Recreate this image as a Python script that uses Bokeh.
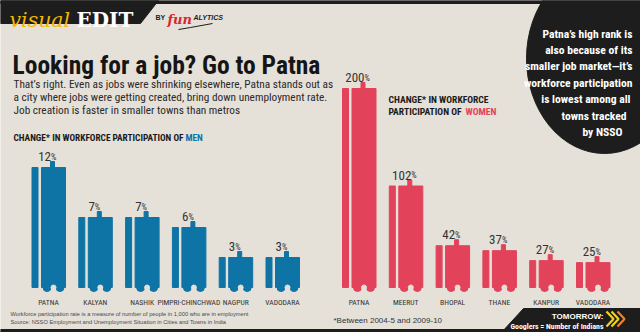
from bokeh.plotting import figure
from bokeh.models import Range1d, ColumnDataSource
from bokeh.transform import dodge
from bokeh.core.properties import value
from bokeh.embed import file_html
from bokeh.resources import INLINE

# ---------------- data ----------------
men_cities = ["PATNA", "KALYAN", "NASHIK", "PIMPRI-CHINCHWAD", "NAGPUR", "VADODARA"]
men_change = [12, 7, 7, 6, 3, 3]
women_cities = ["PATNA", "MEERUT", "BHOPAL", "THANE", "KANPUR", "VADODARA"]
women_change = [200, 102, 42, 37, 27, 25]

title = "Looking for a job? Go to Patna"
subtitle = ["That\u2019s right. Even as jobs were shrinking elsewhere, Patna stands out as",
            "a city where jobs were getting created, bring down unemployment rate.",
            "Job creation is faster in smaller towns than metros"]
note_lines = ["Patna\u2019s high rank is", "also because of its", "smaller job market\u2014it\u2019s",
              "workforce participation", "is lowest among all", "towns tracked", "by NSSO"]
footnotes = ["Workforce participation rate is a measure of number of people in 1,000 who are in employment",
             "Source: NSSO Employment and Unemployment Situation in Cities and Towns in India"]

BG = "#e5e0d8"
BLUE = "#0e74a6"
RED = "#e2435a"
DARK = "#1d1d1d"
NARROW = "Roboto Condensed"

W, H = 640, 332
p = figure(width=W, height=H, x_range=Range1d(0, W), y_range=Range1d(H, 0),
           output_backend="svg", toolbar_location=None, min_border=0,
           x_axis_location=None, y_axis_location=None)
p.grid.visible = False
p.outline_line_color = None
p.background_fill_color = BG
p.border_fill_color = BG

# scales for the two bar charts (index -> px, value -> px)
PX = 46.8
p.extra_x_ranges = {
    "mx": Range1d(-48 / PX, -48 / PX + W / PX),
    "wx": Range1d(-358.5 / PX, -358.5 / PX + W / PX),
}
p.extra_y_ranges = {
    "my": Range1d(-(H - 287) / 10.0, 287 / 10.0),
    "wy": Range1d(-(H - 287) / 0.995, 287 / 0.995),
}

# ---------------- decorations ----------------
p.patch([0, W, W, 0], [0, 0, 3, 3], color=DARK)
p.patch([0, 158, 140, 0], [0, 0, 23, 23], color=DARK)
p.ellipse(x=[604], y=[58], width=[156], height=[190], color=DARK)
p.patch([523, W, W, 501], [308, 308, H, H], color=DARK)
p.patch([0, W, W, 0], [329, 329, H, H], color=DARK)

def txt(x, y, t, size, color=DARK, font=NARROW, style="normal", align="left", baseline="alphabetic"):
    p.text(x=[x], y=[y], text=[t], text_font=value(font), text_font_size=f"{size}px",
           text_font_style=style, text_color=color, text_align=align, text_baseline=baseline)

txt(9, 19, "visual", 20.5, color="#f2b705", font="DejaVu Serif", style="italic")
txt(76, 19, "EDIT", 20, color="white", font="DejaVu Serif", style="bold")
txt(155, 17, "BY", 7, font="Liberation Sans", style="bold")
txt(167, 19, "fun", 13, color="#d8262e", font="DejaVu Serif", style="bold italic")
txt(193, 17, "ALYTICS", 7, font="Liberation Sans", style="bold italic")
p.line([178, 190, 212], [29, 27, 23], color=DARK, line_width=1)

txt(12, 64, title, 25.5, style="bold", color="#151515")
for i, s in enumerate(subtitle):
    txt(13, 84 + 13 * i, s, 11.3, color="#2a2a2a")

rx = [632, 632, 632, 632, 630, 626, 622]
for i, s in enumerate(note_lines):
    txt(rx[i], 33 + 16.4 * i, s, 11.6, color="white", style="bold", align="right")

txt(13, 137, "CHANGE* IN WORKFORCE PARTICIPATION OF", 9.3, style="bold", color="#1a1a1a")
txt(185, 137, "MEN", 9.3, style="bold", color=BLUE)
txt(388, 99, "CHANGE* IN WORKFORCE", 9.6, style="bold", color="#1a1a1a")
txt(388, 111, "PARTICIPATION OF", 9.6, style="bold", color="#1a1a1a")
txt(465, 111, "WOMEN", 9.6, style="bold", color=RED)

for i, s in enumerate(footnotes):
    p.text(x=[10], y=[316 + 8 * i], text=[s], text_font=value("Liberation Sans"),
           text_font_size="5.7px", text_color="#4a4a4a")
txt(333, 320, "*Between 2004-5 and 2009-10", 8, font="Liberation Sans", color="#333333")

txt(603, 316, "TOMORROW:", 8, color="white", font="Liberation Sans", style="bold", align="right")
txt(603, 326, "Googlers = Number of Indians", 7.8, color="white", style="bold", align="right")
for x0, c in [(606, "#f3d21b"), (611, "#f3d21b"), (617, "#f0842a")]:
    p.line([x0, x0 + 7, x0], [311, 318.5, 326], color=c, line_width=2.2)

# ---------------- bars ----------------
def bars(cities, vals, color, xr, yr):
    nums = [str(v) for v in vals]
    src = ColumnDataSource(dict(i=list(range(len(vals))), v=vals, num=nums,
                                pct=["%"] * len(vals), city=cities,
                                nx=[len(n) * 3.0 - 3.5 for n in nums]))
    kw = dict(source=src, x_range_name=xr, y_range_name=yr)
    # main body
    p.vbar(x=dodge("i", 5 / PX), top="v", bottom=0, width=24 / PX, color=color, **kw)
    # thin side bar
    p.vbar(x=dodge("i", -13.5 / PX), top="v", bottom=0, width=6 / PX, color=color, **kw)
    # nub on top
    p.rect(x=dodge("i", 4 / PX), y="v", width=4, height=12, width_units="screen",
           height_units="screen", color=color, **kw)
    # scalloped feet
    for off in (-1.5, 11.5):
        p.scatter(x=dodge("i", off / PX), y=0, size=8, marker="circle", color=color, **kw)
    p.scatter(x=dodge("i", 5 / PX), y=0, size=5, marker="circle", color=BG, **kw)
    # value labels: number + small percent sign
    p.text(x="i", y="v", text="num", x_offset="nx", y_offset=-11, text_align="right",
           text_baseline="alphabetic", text_font=value(NARROW), text_font_size="13px",
           text_color="#333333", **kw)
    p.text(x="i", y="v", text="pct", x_offset="nx", y_offset=-11, text_align="left",
           text_baseline="alphabetic", text_font=value(NARROW), text_font_size="8.5px",
           text_color="#333333", **kw)
    p.text(x="i", y=0, text="city", y_offset=15, text_align="center",
           text_baseline="alphabetic", text_font=value(NARROW), text_font_size="7.6px",
           text_color="#333333", **kw)

bars(men_cities, men_change, BLUE, "mx", "my")
bars(women_cities, women_change, RED, "wx", "wy")

open("out.html", "w").write(file_html(p, INLINE))
